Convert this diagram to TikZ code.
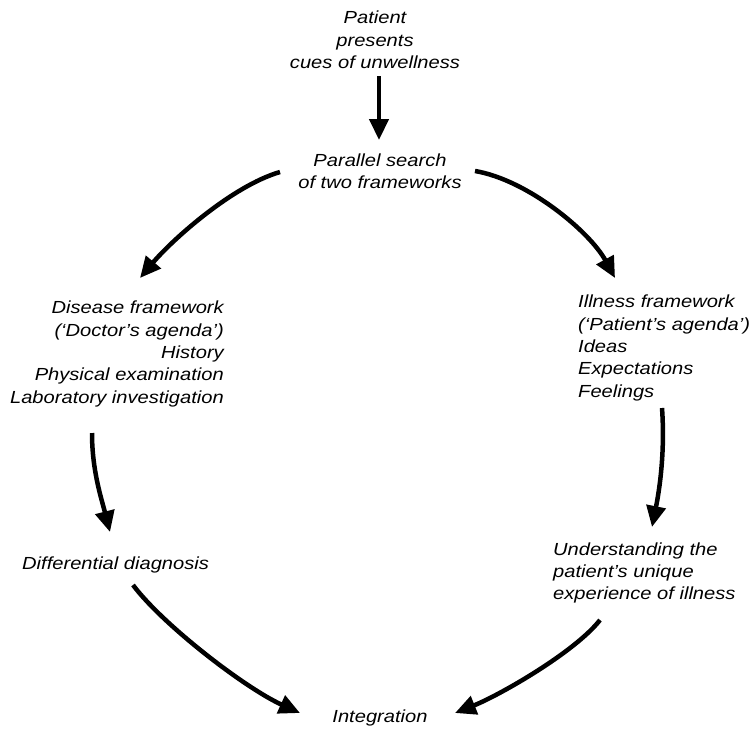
\documentclass[tikz,border=0pt]{standalone}
\usepackage{fontspec}
\setmainfont{Liberation Sans}[FakeStretch=1.15]
\usetikzlibrary{arrows.meta}
\tikzset{
  lbl/.style={inner sep=0pt, font=\fontsize{17.5}{22.3}\selectfont\itshape},
  arr/.style={line width=4.5pt, -{Triangle[length=21pt,width=19pt]}}
}
\begin{document}
\begin{tikzpicture}[x=1pt,y=-1pt]
\useasboundingbox (0,0) rectangle (749,728);
\node[lbl, align=center] (patient) at (375,40) {Patient\\presents\\cues of unwellness};
\node[lbl, align=center] (parallel) at (380,171.5) {Parallel search\\of two frameworks};
\node[lbl, align=right, anchor=east] (disease) at (224,354) {Disease framework\\(‘Doctor’s agenda’)\\History\\Physical examination\\Laboratory investigation};
\node[lbl, align=left, anchor=west] (illness) at (578,348) {Illness framework\\(‘Patient’s agenda’)\\Ideas\\Expectations\\Feelings};
\node[lbl, anchor=west] (diff) at (22,565) {Differential diagnosis};
\node[lbl, align=left, anchor=west] (underst) at (553,573) {Understanding the\\patient’s unique\\experience of illness};
\node[lbl] (integ) at (380,718) {Integration};
% connector end points
\coordinate (p1) at (379,76);
\coordinate (q1) at (379,140);
\coordinate (p2) at (280,172);
\coordinate (q2) at (140,278);
\coordinate (p3) at (475,171);
\coordinate (q3) at (615,278);
\coordinate (p4) at (92,433);
\coordinate (q4) at (110,532);
\coordinate (p5) at (662,408);
\coordinate (q5) at (652,527);
\coordinate (p6) at (133,585);
\coordinate (q6) at (300,713);
\coordinate (p7) at (600,620);
\coordinate (q7) at (455,713);
\draw[arr] (p1) -- (q1);
\draw[arr] (p2) .. controls (232,186) and (172,240) .. (q2);
\draw[arr] (p3) .. controls (528,180) and (590,232) .. (q3);
\draw[arr] (p4) .. controls (92,470) and (101,497) .. (q4);
\draw[arr] (p5) .. controls (665,450) and (660,487) .. (q5);
\draw[arr] (p6) .. controls (163,625) and (245,688) .. (q6);
\draw[arr] (p7) .. controls (575,652) and (500,695) .. (q7);
\end{tikzpicture}
\end{document}
